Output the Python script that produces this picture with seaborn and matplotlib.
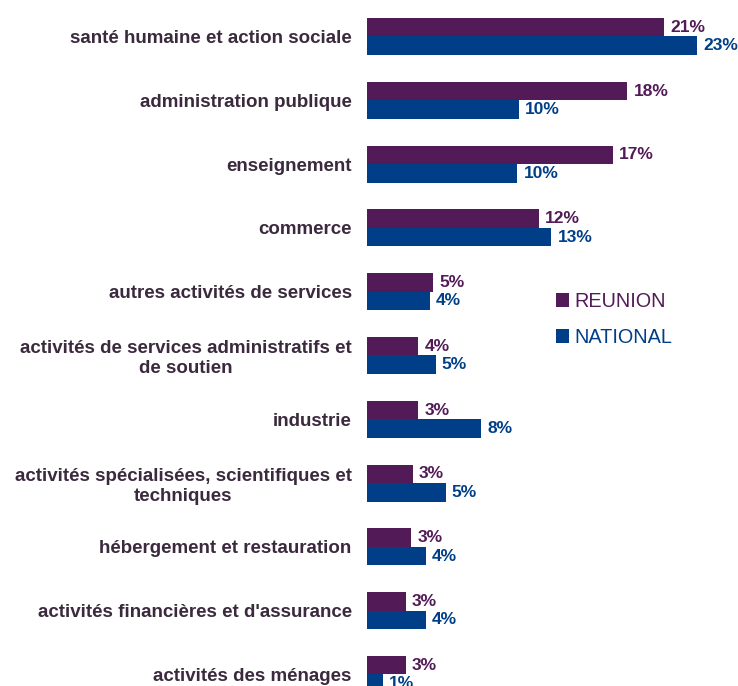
import matplotlib
matplotlib.use("Agg")
import matplotlib.pyplot as plt
import seaborn as sns
import pandas as pd

CATEGORIES = [
    "santé humaine et action sociale",
    "administration publique",
    "enseignement",
    "commerce",
    "autres activités de services",
    "activités de services administratifs et\nde soutien",
    "industrie",
    "activités spécialisées, scientifiques et\ntechniques",
    "hébergement et restauration",
    "activités financières et d'assurance",
    "activités des ménages",
]

# bar lengths, printed labels as shown
REUNION = [20.8, 18.2, 17.2, 12.0, 4.6, 3.6, 3.6, 3.2, 3.1, 2.7, 2.7]
NATIONAL = [23.1, 10.6, 10.5, 12.9, 4.4, 4.8, 8.0, 5.5, 4.1, 4.1, 1.1]
REUNION_LABELS = ["21%", "18%", "17%", "12%", "5%", "4%", "3%", "3%", "3%", "3%", "3%"]
NATIONAL_LABELS = ["23%", "10%", "10%", "13%", "4%", "5%", "8%", "5%", "4%", "4%", "1%"]

SERIES = ["REUNION", "NATIONAL"]
COLORS = {"REUNION": "#521a56", "NATIONAL": "#003f87"}
TEXT_COLOR = "#3b2a3e"


def plot():
    sns.set_style("white")
    plt.rcParams["font.family"] = ["Liberation Sans", "DejaVu Sans"]

    df = pd.DataFrame(
        {
            "category": CATEGORIES * 2,
            "value": REUNION + NATIONAL,
            "series": ["REUNION"] * len(REUNION) + ["NATIONAL"] * len(NATIONAL),
        }
    )

    fig = plt.figure(figsize=(7.38, 6.86), dpi=100)
    ax = fig.add_axes([367 / 738, 0, (738 - 367) / 738, 1])

    sns.barplot(
        data=df,
        x="value",
        y="category",
        hue="series",
        hue_order=SERIES,
        palette=COLORS,
        orient="h",
        width=0.58,
        saturation=1,
        linewidth=0,
        ax=ax,
        legend=True,
    )

    ax.set_xlim(0, 371 / 14.3)
    ax.set_ylim((686 - 36.5) / 63.8, -36.5 / 63.8)
    sns.despine(ax=ax, left=True, bottom=True, top=True, right=True)
    ax.set_xticks([])
    ax.set_xlabel("")
    ax.set_ylabel("")
    ax.tick_params(axis="y", length=0, pad=11)
    for t in ax.get_yticklabels():
        t.set_fontsize(13.5)
        t.set_fontweight("bold")
        t.set_color(TEXT_COLOR)
        t.set_multialignment("center")

    for container, labels, name in zip(
        ax.containers, [REUNION_LABELS, NATIONAL_LABELS], SERIES
    ):
        ax.bar_label(
            container,
            labels=labels,
            padding=4.5,
            fontsize=12.5,
            fontweight="bold",
            color=COLORS[name],
        )

    handles, names = ax.get_legend_handles_labels()
    leg = ax.legend(
        handles,
        names,
        loc="upper left",
        bbox_to_anchor=(556 / 738, 1 - 292 / 686),
        bbox_transform=fig.transFigure,
        frameon=False,
        fontsize=14.3,
        handlelength=0.65,
        handleheight=0.65,
        handletextpad=0.25,
        labelspacing=0.85,
        borderpad=0,
        borderaxespad=0,
    )
    for text, name in zip(leg.get_texts(), SERIES):
        text.set_color(COLORS[name])

    fig.savefig("out.png", dpi=100)
    plt.close(fig)


if __name__ == "__main__":
    plot()
